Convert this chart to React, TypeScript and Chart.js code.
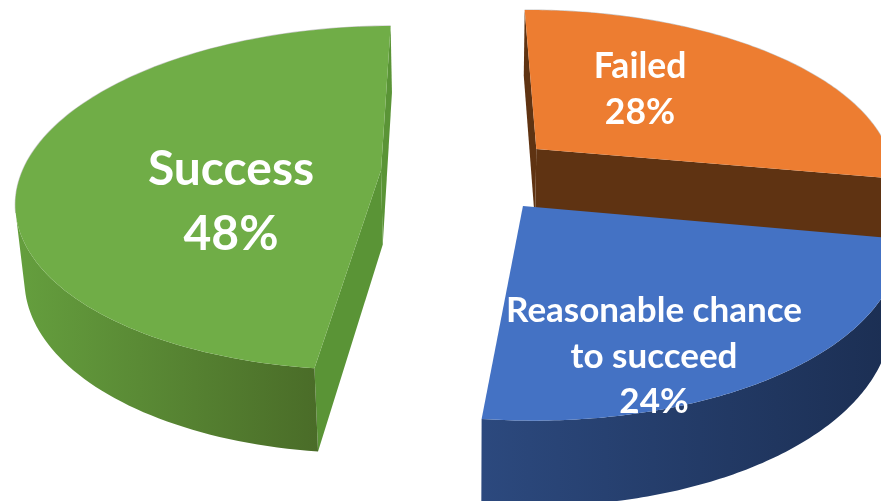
import React, { useEffect, useRef } from "react";
import { Chart, registerables } from "chart.js";

Chart.register(...registerables);

const categories = ["Failed", "Reasonable chance to succeed", "Success"];
const shares = [28, 24, 48];
const explodeOffsets = [48, 44, 53];

const topColors = ["#ed7d31", "#4472c4", "#70ad47"];
const cutWallColors = ["#5f3312", "#223a66", "#5a9436"];
const rimGradients = [
  ["#5f3312", "#5f3312"],
  ["#2c497e", "#1b2e52"],
  ["#659f3e", "#4a6c28"],
];

// Extra per-slice displacement on the pie plane, in radius units.
const planeShifts = [
  { du: 0.025, dv: -0.02 },
  { du: 0.026, dv: 0.02 },
  { du: -0.012, dv: -0.015 },
];

// Text blocks: one entry per slice, the last line carries the share.
const labelLines = [["Failed"], ["Reasonable chance", "to succeed"], ["Success"]];
const labelStyles = [
  { x: 640, baseline: 78, step: 46, size: 35.5 },
  { x: 654, baseline: 322, step: 45.5, size: 35 },
  { x: 231, baseline: 185, step: 65, size: 48 },
];

// Perspective camera applied to the pie's unit-circle geometry.
const camera = { x0: 470, y0: 175, rx: 360, ry: 169, depth: 0.161, height: 76, taper: 0.02 };

type Pt = { x: number; y: number };

function project(u: number, v: number, z: number): Pt {
  const d = 1 - camera.depth * v + camera.taper * z;
  return {
    x: camera.x0 + (camera.rx * u) / d,
    y: camera.y0 + (camera.ry * v + camera.height * z) / d,
  };
}

// Negative area means the face points at the viewer for our edge traversal.
function signedArea(p: Pt[]): number {
  let a = 0;
  for (let i = 0; i < p.length; i++) {
    const q = p[(i + 1) % p.length];
    a += p[i].x * q.y - q.x * p[i].y;
  }
  return a / 2;
}

function fillPolygon(ctx: CanvasRenderingContext2D, p: Pt[], fill: string | CanvasGradient) {
  ctx.beginPath();
  p.forEach((pt, i) => (i ? ctx.lineTo(pt.x, pt.y) : ctx.moveTo(pt.x, pt.y)));
  ctx.closePath();
  ctx.fillStyle = fill;
  ctx.fill();
}

const perspectivePie = {
  id: "perspectivePie",
  beforeDatasetsDraw(chart: any) {
    const ctx: CanvasRenderingContext2D = chart.ctx;
    const arcs = chart.getDatasetMeta(0).data;
    const slices = arcs.map((arc: any, index: number) => {
      const off = arc.options.offset / arc.outerRadius;
      const mid = (arc.startAngle + arc.endAngle) / 2;
      return {
        index,
        start: arc.startAngle,
        end: arc.endAngle,
        cu: Math.cos(mid) * off + planeShifts[index].du,
        cv: Math.sin(mid) * off + planeShifts[index].dv,
      };
    });
    slices.sort((a: any, b: any) => a.cv - b.cv);

    ctx.save();
    for (const s of slices) {
      const steps = 120;
      const rim: number[][] = [];
      for (let i = 0; i <= steps; i++) {
        const a = s.start + ((s.end - s.start) * i) / steps;
        rim.push([s.cu + Math.cos(a), s.cv + Math.sin(a)]);
      }

      // Radial cut faces of the slice
      const cutFace = (from: number[], to: number[]) => {
        const quad = [
          project(from[0], from[1], 0),
          project(to[0], to[1], 0),
          project(to[0], to[1], 1),
          project(from[0], from[1], 1),
        ];
        if (signedArea(quad) < 0) fillPolygon(ctx, quad, cutWallColors[s.index]);
      };
      cutFace([s.cu, s.cv], rim[0]);
      cutFace(rim[steps], [s.cu, s.cv]);

      // Curved outer face: only the runs turned towards the viewer
      const faces = (i: number) => {
        const quad = [
          project(rim[i][0], rim[i][1], 0),
          project(rim[i + 1][0], rim[i + 1][1], 0),
          project(rim[i + 1][0], rim[i + 1][1], 1),
          project(rim[i][0], rim[i][1], 1),
        ];
        return signedArea(quad) < 0;
      };
      let i = 0;
      while (i < steps) {
        if (!faces(i)) {
          i++;
          continue;
        }
        let j = i;
        while (j < steps && faces(j)) j++;
        const upper: Pt[] = [];
        const lower: Pt[] = [];
        for (let k = i; k <= j; k++) {
          upper.push(project(rim[k][0], rim[k][1], 0));
          lower.push(project(rim[k][0], rim[k][1], 1));
        }
        const poly = upper.concat(lower.reverse());
        const xs = poly.map((p) => p.x);
        const g = ctx.createLinearGradient(Math.min(...xs), 0, Math.max(...xs), 0);
        g.addColorStop(0, rimGradients[s.index][0]);
        g.addColorStop(1, rimGradients[s.index][1]);
        fillPolygon(ctx, poly, g);
        i = j;
      }

      // Faint grey edge along the far side of the rim
      ctx.strokeStyle = "rgba(130,130,130,0.45)";
      ctx.lineWidth = 1.2;
      for (let n = 0; n < steps; n++) {
        if (faces(n)) continue;
        const a = project(rim[n][0], rim[n][1], 0);
        const b = project(rim[n + 1][0], rim[n + 1][1], 0);
        ctx.beginPath();
        ctx.moveTo(a.x, a.y);
        ctx.lineTo(b.x, b.y);
        ctx.stroke();
      }

      // Top face
      const top = [project(s.cu, s.cv, 0)].concat(rim.map((r) => project(r[0], r[1], 0)));
      fillPolygon(ctx, top, topColors[s.index]);
    }

    // Slice captions
    ctx.fillStyle = "#ffffff";
    ctx.textAlign = "center";
    ctx.textBaseline = "alphabetic";
    categories.forEach((_, n) => {
      const st = labelStyles[n];
      ctx.font = `bold ${st.size}px Lato`;
      const lines = [...labelLines[n], `${shares[n]}%`];
      lines.forEach((line, l) => ctx.fillText(line, st.x, st.baseline + l * st.step));
    });
    ctx.restore();
    return false;
  },
};

export default function App() {
  const ref = useRef<HTMLCanvasElement | null>(null);
  useEffect(() => {
    const chart = new Chart(ref.current as HTMLCanvasElement, {
      type: "pie",
      data: {
        labels: categories,
        datasets: [{ data: shares, offset: explodeOffsets, backgroundColor: topColors, borderWidth: 0 }],
      },
      options: {
        responsive: false,
        animation: false,
        rotation: -0.5,
        plugins: { legend: { display: false }, tooltip: { enabled: false } },
      },
      plugins: [perspectivePie],
    } as any);
    return () => chart.destroy();
  }, []);
  return (
    <div style={{ position: "fixed", left: 0, top: 0, width: 881, height: 501, background: "#ffffff" }}>
      <canvas ref={ref} width={881} height={501} style={{ display: "block" }} />
    </div>
  );
}
